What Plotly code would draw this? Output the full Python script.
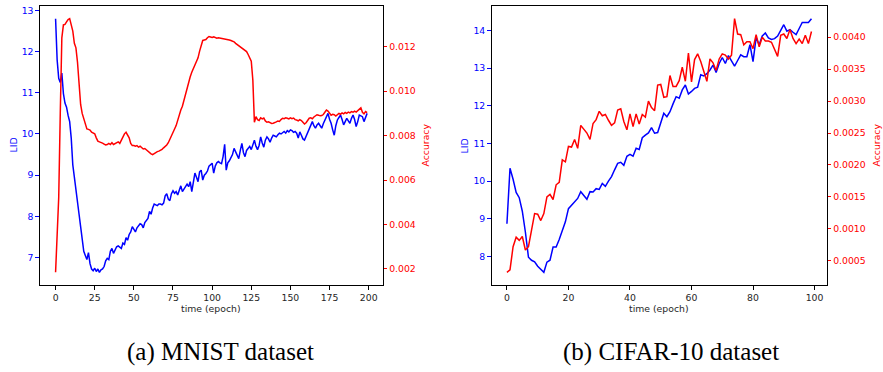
import plotly.graph_objects as go

# ---------------- data ----------------
mnist_epochs = list(range(200))
mnist_lid = [
    12.80, 11.80, 11.35, 11.25, 11.48, 10.98, 10.75, 10.65, 10.45, 10.30,
    9.90, 9.25, 8.95, 8.60, 8.30, 8.05, 7.75, 7.42, 7.15, 7.05,
    6.95, 7.12, 6.85, 6.72, 6.68, 6.74, 6.66, 6.72, 6.64, 6.70,
    6.72, 6.78, 6.92, 6.98, 6.95, 7.15, 7.22, 7.10, 7.20, 7.26,
    7.28, 7.25, 7.22, 7.35, 7.32, 7.48, 7.42, 7.56, 7.62, 7.75,
    7.68, 7.62, 7.72, 7.78, 7.82, 7.80, 7.72, 7.85, 7.90, 7.95,
    8.12, 8.05, 8.20, 8.30, 8.28, 8.26, 8.30, 8.30, 8.28, 8.32,
    8.50, 8.55, 8.42, 8.38, 8.55, 8.62, 8.56, 8.60, 8.52, 8.66,
    8.74, 8.60, 8.66, 8.70, 8.78, 8.72, 8.84, 8.60, 8.80, 9.05,
    8.95, 8.84, 9.08, 9.12, 8.88, 9.00, 9.04, 9.10, 9.22, 9.25,
    9.29, 9.05, 9.22, 9.30, 9.33, 9.30, 9.28, 9.45, 9.75, 9.12,
    9.30, 9.35, 9.42, 9.50, 9.65, 9.55, 9.48, 9.40, 9.60, 9.77,
    9.55, 9.45, 9.60, 9.65, 9.70, 9.62, 9.72, 9.85, 9.70, 9.62,
    9.72, 9.93, 9.78, 9.68, 9.85, 9.93, 9.88, 9.80, 9.90, 9.97,
    9.95, 9.93, 9.98, 10.02, 10.00, 10.04, 10.06, 10.02, 10.08, 10.05,
    10.10, 10.08, 10.04, 10.06, 10.02, 9.90, 10.05, 9.97, 9.88, 9.85,
    9.95, 10.02, 10.10, 10.22, 10.30, 10.20, 10.14, 10.22, 10.26, 10.20,
    10.14, 10.25, 10.34, 10.40, 10.50, 10.36, 10.26, 10.10, 9.97, 10.20,
    10.34, 10.40, 10.46, 10.35, 10.22, 10.30, 10.38, 10.32, 10.26, 10.38,
    10.46, 10.35, 10.18, 10.30, 10.46, 10.44, 10.42, 10.30, 10.40, 10.50,
]
mnist_acc = [
    0.00185, 0.00320, 0.00520, 0.00900, 0.01240, 0.01298, 0.01300, 0.01312, 0.01322, 0.01326,
    0.01300, 0.01270, 0.01215, 0.01195, 0.01130, 0.01030, 0.00940, 0.00900, 0.00875, 0.00845,
    0.00830, 0.00828, 0.00825, 0.00815, 0.00812, 0.00808, 0.00790, 0.00775, 0.00772, 0.00770,
    0.00766, 0.00762, 0.00758, 0.00760, 0.00765, 0.00760, 0.00768, 0.00760, 0.00765, 0.00770,
    0.00772, 0.00765, 0.00782, 0.00795, 0.00808, 0.00815, 0.00805, 0.00790, 0.00765, 0.00755,
    0.00755, 0.00752, 0.00755, 0.00748, 0.00752, 0.00745, 0.00740, 0.00742, 0.00735, 0.00730,
    0.00725, 0.00718, 0.00714, 0.00720, 0.00726, 0.00728, 0.00730, 0.00733, 0.00738, 0.00745,
    0.00750, 0.00758, 0.00768, 0.00782, 0.00795, 0.00812, 0.00830, 0.00845, 0.00870, 0.00898,
    0.00915, 0.00932, 0.00958, 0.00990, 0.01020, 0.01040, 0.01065, 0.01085, 0.01100, 0.01118,
    0.01135, 0.01150, 0.01180, 0.01210, 0.01228, 0.01230, 0.01232, 0.01240, 0.01246, 0.01244,
    0.01242, 0.01244, 0.01240, 0.01238, 0.01240, 0.01239, 0.01238, 0.01237, 0.01236, 0.01235,
    0.01232, 0.01230, 0.01228, 0.01225, 0.01222, 0.01215, 0.01210, 0.01205, 0.01200, 0.01195,
    0.01190, 0.01185, 0.01178, 0.01165, 0.01150, 0.01135, 0.01050, 0.00860, 0.00885, 0.00872,
    0.00868, 0.00880, 0.00875, 0.00879, 0.00866, 0.00860, 0.00862, 0.00858, 0.00855, 0.00856,
    0.00858, 0.00862, 0.00866, 0.00864, 0.00872, 0.00878, 0.00876, 0.00880, 0.00878, 0.00875,
    0.00880, 0.00876, 0.00879, 0.00872, 0.00870, 0.00866, 0.00872, 0.00868, 0.00860, 0.00852,
    0.00858, 0.00870, 0.00878, 0.00880, 0.00876, 0.00884, 0.00890, 0.00894, 0.00892, 0.00889,
    0.00890, 0.00895, 0.00905, 0.00915, 0.00910, 0.00898, 0.00892, 0.00896, 0.00894, 0.00888,
    0.00895, 0.00900, 0.00896, 0.00902, 0.00898, 0.00904, 0.00900, 0.00906, 0.00902, 0.00908,
    0.00905, 0.00910, 0.00906, 0.00912, 0.00915, 0.00925, 0.00905, 0.00898, 0.00908, 0.00903,
]

cifar_epochs = list(range(100))
cifar_lid = [
    8.87, 10.34, 10.05, 9.70, 9.56, 9.20, 8.65, 7.98, 7.90, 7.86,
    7.74, 7.65, 7.58, 7.85, 7.90, 8.25, 8.25, 8.45, 8.68, 8.92,
    9.27, 9.36, 9.44, 9.54, 9.72, 9.62, 9.52, 9.72, 9.71, 9.80,
    9.78, 9.94, 9.86, 10.00, 10.12, 10.30, 10.47, 10.50, 10.42, 10.66,
    10.71, 10.66, 10.87, 10.84, 11.15, 11.22, 11.28, 11.42, 11.27, 11.29,
    11.58, 11.80, 11.71, 11.84, 12.05, 12.24, 12.20, 12.42, 12.55, 12.31,
    12.38, 12.46, 12.49, 12.82, 12.79, 12.85, 12.95, 13.08, 12.88, 13.12,
    13.28, 13.12, 13.33, 13.18, 13.05, 13.20, 13.35, 13.30, 13.30, 13.62,
    13.17, 13.80, 13.62, 13.85, 13.93, 13.80, 13.76, 13.78, 13.85, 14.00,
    14.15, 13.98, 14.02, 13.95, 13.89, 14.05, 14.21, 14.21, 14.21, 14.31,
]
cifar_acc = [
    0.00032, 0.00036, 0.00072, 0.00087, 0.00082, 0.00088, 0.00067, 0.00072, 0.00098, 0.00124,
    0.00123, 0.00113, 0.00124, 0.00150, 0.00154, 0.00146, 0.00169, 0.00173, 0.00208, 0.00205,
    0.00229, 0.00228, 0.00240, 0.00226, 0.00262, 0.00256, 0.00250, 0.00240, 0.00265, 0.00271,
    0.00284, 0.00277, 0.00279, 0.00270, 0.00262, 0.00266, 0.00286, 0.00288, 0.00268, 0.00255,
    0.00280, 0.00260, 0.00280, 0.00264, 0.00279, 0.00275, 0.00300, 0.00290, 0.00285, 0.00325,
    0.00326, 0.00306, 0.00307, 0.00340, 0.00323, 0.00323, 0.00332, 0.00353, 0.00331, 0.00375,
    0.00330, 0.00365, 0.00374, 0.00362, 0.00348, 0.00331, 0.00366, 0.00360, 0.00348, 0.00366,
    0.00374, 0.00372, 0.00366, 0.00372, 0.00429, 0.00405, 0.00404, 0.00388, 0.00393, 0.00393,
    0.00382, 0.00404, 0.00385, 0.00400, 0.00394, 0.00394, 0.00392, 0.00382, 0.00370, 0.00403,
    0.00405, 0.00398, 0.00412, 0.00398, 0.00390, 0.00397, 0.00390, 0.00403, 0.00390, 0.00409,
]

mnist_xticks = [0, 25, 50, 75, 100, 125, 150, 175, 200]
mnist_lid_ticks = [7, 8, 9, 10, 11, 12, 13]
mnist_acc_ticks = [0.002, 0.004, 0.006, 0.008, 0.010, 0.012]
cifar_xticks = [0, 20, 40, 60, 80, 100]
cifar_lid_ticks = [8, 9, 10, 11, 12, 13, 14]
cifar_acc_ticks = [0.0005, 0.0010, 0.0015, 0.0020, 0.0025, 0.0030, 0.0035, 0.0040]

captions = ["(a) MNIST dataset", "(b) CIFAR-10 dataset"]
x_title = "time (epoch)"
lid_title = "LID"
acc_title = "Accuracy"

# ---------------- styling / layout ----------------
W, H = 883, 372
BLUE, RED = "#0000ff", "#ff0000"
FONT = "DejaVu Sans"
FS = 9.3


def pad(vals, frac=0.05):
    lo, hi = min(vals), max(vals)
    m = (hi - lo) * frac
    return [lo - m, hi + m]


def px(x):
    return x / W


def py(y):
    return 1 - y / H


top, bottom = 6, 285
ydom = [py(bottom), py(top)]
left_dom = [px(40), px(382.7)]
right_dom = [px(491.7), px(826.7)]

fig = go.Figure()
fig.add_trace(go.Scatter(x=mnist_epochs, y=mnist_lid, mode="lines",
                         line=dict(color=BLUE, width=1.5), xaxis="x", yaxis="y"))
fig.add_trace(go.Scatter(x=mnist_epochs, y=mnist_acc, mode="lines",
                         line=dict(color=RED, width=1.5), xaxis="x", yaxis="y2"))
fig.add_trace(go.Scatter(x=cifar_epochs, y=cifar_lid, mode="lines",
                         line=dict(color=BLUE, width=1.5), xaxis="x2", yaxis="y3"))
fig.add_trace(go.Scatter(x=cifar_epochs, y=cifar_acc, mode="lines",
                         line=dict(color=RED, width=1.5), xaxis="x2", yaxis="y4"))

common_x = dict(showgrid=False, zeroline=False, showline=True, linecolor="black",
                linewidth=1.2, mirror=True, ticks="outside", ticklen=3.5,
                tickcolor="black", tickwidth=1,
                tickfont=dict(family=FONT, size=FS, color="#262626"))


def yax(color, side, ticks, fmt, overlay=None, anchor="x"):
    d = dict(showgrid=False, zeroline=False, showline=True, linecolor="black",
             linewidth=1.2, ticks="outside", ticklen=3.5, tickcolor=color, tickwidth=1,
             tickfont=dict(family=FONT, size=FS, color=color), side=side,
             tickmode="array", tickvals=ticks, ticktext=[fmt.format(t) for t in ticks],
             domain=ydom, anchor=anchor)
    if overlay:
        d["overlaying"] = overlay
    return d


lid_l = yax(BLUE, "left", mnist_lid_ticks, "{:d}")
lid_l["range"] = pad(mnist_lid)
acc_l = yax(RED, "right", mnist_acc_ticks, "{:.3f}", overlay="y")
acc_l["range"] = pad(mnist_acc)
lid_r = yax(BLUE, "left", cifar_lid_ticks, "{:d}", anchor="x2")
lid_r["range"] = pad(cifar_lid)
acc_r = yax(RED, "right", cifar_acc_ticks, "{:.4f}", overlay="y3", anchor="x2")
acc_r["range"] = pad(cifar_acc)

fig.update_layout(
    width=W, height=H, margin=dict(l=0, r=0, t=0, b=0),
    paper_bgcolor="white", plot_bgcolor="white", showlegend=False,
    xaxis=dict(common_x, domain=left_dom, range=pad(mnist_epochs), anchor="y",
               tickmode="array", tickvals=mnist_xticks),
    xaxis2=dict(common_x, domain=right_dom, range=pad(cifar_epochs), anchor="y3",
                tickmode="array", tickvals=cifar_xticks),
    yaxis=lid_l, yaxis2=acc_l, yaxis3=lid_r, yaxis4=acc_r,
)

ann = []
mid_y = py((top + bottom) / 2)
for cx, cap in zip([221, 671], captions):
    ann.append(dict(text=cap, x=px(cx), y=py(352), xref="paper", yref="paper",
                    showarrow=False, xanchor="center", yanchor="middle",
                    font=dict(family="Liberation Serif", size=25, color="black")))
for cx in [211, 659]:
    ann.append(dict(text=x_title, x=px(cx), y=py(308), xref="paper", yref="paper",
                    showarrow=False, xanchor="center", yanchor="middle",
                    font=dict(family=FONT, size=FS, color="#262626")))
for cx, t, c in [(13, lid_title, BLUE), (425, acc_title, RED),
                 (464, lid_title, BLUE), (876, acc_title, RED)]:
    ann.append(dict(text=t, x=px(cx), y=mid_y, xref="paper", yref="paper",
                    showarrow=False, textangle=-90, xanchor="center", yanchor="middle",
                    font=dict(family=FONT, size=FS, color=c)))
fig.update_layout(annotations=ann)

fig.write_html("out.html")
